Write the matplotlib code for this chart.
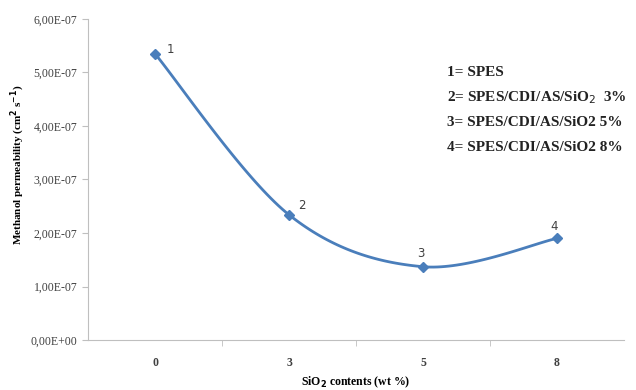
import numpy as np
import matplotlib.pyplot as plt
from matplotlib.ticker import FuncFormatter

# data
sio2 = ["0", "3", "5", "8"]
permeability = [5.35e-7, 2.34e-7, 1.37e-7, 1.90e-7]
point_labels = ["1", "2", "3", "4"]
label_offsets = [(15, 4), (13, 9), (-2, 13), (-3, 12)]  # pixels, where Excel put them
legend_lines = ["1= SPES",
                "2= SPES/CDI/AS/SiO$_2$  3%",
                "3= SPES/CDI/AS/SiO2 5%",
                "4= SPES/CDI/AS/SiO2 8%"]

plt.rcParams['font.family'] = ['Liberation Serif', 'DejaVu Serif']

fig = plt.figure(figsize=(6.36, 3.90), dpi=100)
ax = fig.add_axes([0.1384, 0.1282, 0.8428, 0.8231])

x = np.arange(len(sio2), dtype=float)
y = np.array(permeability)

# Excel-like smoothed line (cubic bezier through the points)
def smooth(px, py, n=40):
    P = np.column_stack([px, py])
    out = []
    for i in range(len(P) - 1):
        p0 = P[i - 1] if i > 0 else P[i]
        p1 = P[i]
        p2 = P[i + 1]
        p3 = P[i + 2] if i + 2 < len(P) else P[i + 1]
        c1 = p1 + (p2 - p0) / 6
        c2 = p2 - (p3 - p1) / 6
        t = np.linspace(0, 1, n)[:, None]
        seg = ((1 - t) ** 3) * p1 + 3 * ((1 - t) ** 2) * t * c1 + 3 * (1 - t) * t ** 2 * c2 + t ** 3 * p2
        out.append(seg)
    out = np.vstack(out)
    return out[:, 0], out[:, 1]

sx, sy = smooth(x, y * 1e7)
ax.plot(sx, sy * 1e-7, color="#4a7ebb", lw=2)
ax.plot(x, y, linestyle="none", marker="D", ms=5, color="#4a7ebb")

for xi, yi, lab, off in zip(x, y, point_labels, label_offsets):
    ax.annotate(lab, (xi, yi), xytext=off, textcoords="offset pixels",
                ha="center", va="center", fontsize=8.5, color="#404040",
                family=["DejaVu Sans"])

ax.set_xlim(-0.5, 3.5)
ax.set_ylim(0, 6e-7)
ax.set_xticks(x)
ax.set_xticklabels(sio2, fontweight="bold")
ax.set_xticks([0.5, 1.5, 2.5], minor=True)
ax.tick_params(axis="x", which="major", length=0, labelsize=8.5, pad=12, colors="#404040")
ax.tick_params(axis="x", which="minor", length=4, color="#bfbfbf")
ax.set_yticks(np.arange(0, 7e-7, 1e-7))
ax.yaxis.set_major_formatter(FuncFormatter(lambda v, p: f"{v:.2E}".replace(".", ",")))
ax.tick_params(axis="y", length=4, color="#bfbfbf", labelsize=8.5, labelcolor="#404040")

for s in ["top", "right"]:
    ax.spines[s].set_visible(False)
for s in ["left", "bottom"]:
    ax.spines[s].set_color("#bfbfbf")

ax.set_ylabel("Methanol permeability (cm$^\\mathbf{2}$ s$^\\mathbf{-1}$)", fontsize=8,
              fontweight="bold")
ax.yaxis.set_label_coords(-0.113, 0.545)
ax.set_xlabel("SiO$_\\mathbf{2}$ contents (wt %)", fontsize=8.5, fontweight="bold", labelpad=4)

for i, line in enumerate(legend_lines):
    fig.text(0.703, 0.813 - i * 0.064, line, fontsize=11, fontweight="bold",
             color="#222222", va="center")

fig.savefig("out.png", dpi=100)
